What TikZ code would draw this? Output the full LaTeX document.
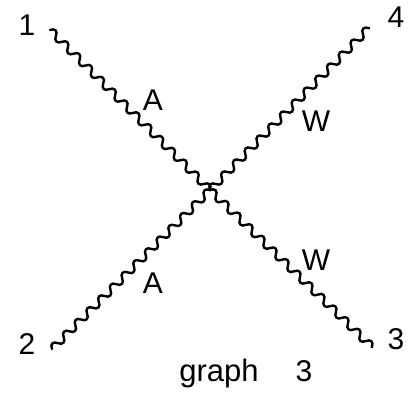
\documentclass[tikz,border=0pt]{standalone}
\usepackage{fontspec}
\setmainfont{Liberation Sans}
\usetikzlibrary{decorations}
\pgfdeclaredecoration{wiggle}{up}{
  \state{up}[width=.5\pgfdecorationsegmentlength,next state=down,switch if less than=.25\pgfdecorationsegmentlength to final]{
    \pgfpathcurveto{\pgfpoint{.125\pgfdecorationsegmentlength}{1.33\pgfdecorationsegmentamplitude}}{\pgfpoint{.375\pgfdecorationsegmentlength}{1.33\pgfdecorationsegmentamplitude}}{\pgfpoint{.5\pgfdecorationsegmentlength}{0pt}}
  }
  \state{down}[width=.5\pgfdecorationsegmentlength,next state=up,switch if less than=.25\pgfdecorationsegmentlength to final]{
    \pgfpathcurveto{\pgfpoint{.125\pgfdecorationsegmentlength}{-1.33\pgfdecorationsegmentamplitude}}{\pgfpoint{.375\pgfdecorationsegmentlength}{-1.33\pgfdecorationsegmentamplitude}}{\pgfpoint{.5\pgfdecorationsegmentlength}{0pt}}
  }
  \state{final}{\pgfpathlineto{\pgfpointdecoratedpathlast}}
}
\tikzset{
  px/.style={x=1pt,y=-1pt},
  boson/.style={draw=black,line width=2.4pt,line cap=round,decorate,decoration={wiggle,amplitude=3.7pt,segment length=#1}},
  lab/.style={inner sep=0pt,anchor=base,font=\fontsize{30}{30}\selectfont,text=black}
}
\begin{document}
\begin{tikzpicture}[px]
\useasboundingbox (0,0) rectangle (412,398);
\coordinate (v) at (210,190);
\coordinate (p1) at (50,30);
\coordinate (p2) at (52,349);
\coordinate (p3) at (372,347);
\coordinate (p4) at (369,28);
\draw[boson=16.75pt] (p1) -- (v);
\draw[boson=16.6pt] (p2) -- (v);
\draw[boson=16.7pt] (v) -- (p3);
\draw[boson=16.8pt] (v) -- (p4);
\node[lab] (n1) at (27,36) {1};
\node[lab] (n2) at (27,354) {2};
\node[lab] (n3) at (396,349) {3};
\node[lab] (n4) at (396,28) {4};
\node[lab] (a1) at (153,111) {A};
\node[lab] (a2) at (153,293) {A};
\node[lab] (w1) at (316,132) {W};
\node[lab] (w2) at (316,270) {W};
\node[lab,font=\fontsize{31}{31}\selectfont] (g) at (219,381) {graph};
\node[lab] (g3) at (304,381) {3};
\end{tikzpicture}
\end{document}
